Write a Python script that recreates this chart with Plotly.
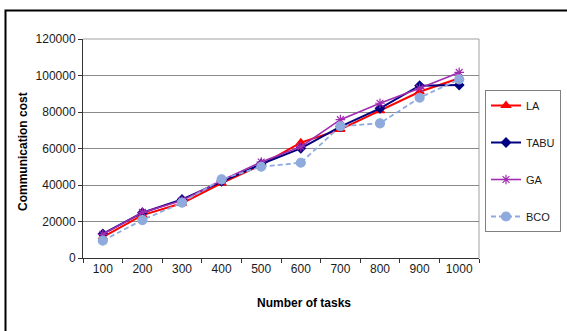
import plotly.graph_objects as go

tasks = ["100", "200", "300", "400", "500", "600", "700", "800", "900", "1000"]
la = [11500, 23500, 30000, 41000, 51000, 63200, 70500, 80700, 91100, 98500]
tabu = [13200, 24800, 32100, 42000, 51500, 60100, 72000, 82000, 94400, 94800]
ga = [13000, 25000, 31500, 42500, 52600, 61000, 75800, 84800, 93000, 101700]
bco = [9500, 20800, 30300, 43100, 50000, 52200, 72200, 73800, 87800, 97900]

FONT = "Liberation Sans, Arial, sans-serif"

series = [
    ("LA", la, "#ff0000", "solid", "triangle-up", 8, 2),
    ("TABU", tabu, "#000080", "solid", "diamond", 7, 2),
    ("GA", ga, "#a02cb0", "solid", "asterisk-open", 8, 1.6),
    ("BCO", bco, "#8faadc", "5px,3px", "circle", 9, 1.8),
]

fig = go.Figure()
for name, vals, color, dash, symbol, size, width in series:
    fig.add_trace(go.Scatter(
        x=tasks, y=vals, name=name, mode="lines+markers",
        legendgroup=name,
        line=dict(color=color, width=width, dash=dash),
        marker=dict(symbol=symbol, size=size, color=color,
                    line=dict(color=color, width=1.2)),
    ))

# plot area occupies x 83..479, y 39..258 in the 567x331 page
L, R, T, B = 83, 479, 39, 258
W, H = R - L, B - T

def px(xp):
    return (xp - L) / W

def py(yp):
    return (B - yp) / H

fig.update_layout(
    width=567, height=331,
    margin=dict(l=L, r=567 - R, t=T, b=331 - B, autoexpand=False),
    paper_bgcolor="white", plot_bgcolor="white",
    font=dict(family=FONT, size=12, color="#1a1a1a"),
    showlegend=True,
    legend=dict(
        x=px(485), y=py(90), xanchor="left", yanchor="top",
        bordercolor="#808080", borderwidth=1, bgcolor="white",
        font=dict(family=FONT, size=11, color="#1a1a1a"),
        tracegroupgap=18, itemwidth=30,
    ),
    xaxis=dict(
        type="category", tickson="boundaries",
        ticks="outside", ticklen=4, tickcolor="#333",
        showline=True, linecolor="#333", linewidth=1,
        showgrid=False, zeroline=False,
        tickfont=dict(family=FONT, size=12, color="#1a1a1a"),
        range=[-0.5, 9.5],
    ),
    yaxis=dict(
        range=[0, 120000], dtick=20000,
        ticks="outside", ticklen=4, tickcolor="#333",
        showline=True, linecolor="#333", linewidth=1,
        showgrid=True, gridcolor="#8a8a8a", gridwidth=1,
        zeroline=False, tickformat="d",
        tickfont=dict(family=FONT, size=12, color="#1a1a1a"),
    ),
    shapes=[
        # plot area frame (top and right edges)
        dict(type="line", xref="paper", yref="paper", x0=0, x1=1, y0=1, y1=1,
             line=dict(color="#a0a0a0", width=1), layer="below"),
        dict(type="line", xref="paper", yref="paper", x0=1, x1=1, y0=0, y1=1,
             line=dict(color="#a0a0a0", width=1), layer="below"),
        # chart area border
        dict(type="rect", xref="paper", yref="paper",
             x0=px(5.5), x1=px(575), y0=py(10.5), y1=py(340),
             line=dict(color="#000000", width=2)),
    ],
    annotations=[
        dict(text="<b>Communication cost</b>", textangle=-90,
             xref="paper", yref="paper", x=px(23), y=py(152),
             xanchor="center", yanchor="middle",
             showarrow=False, font=dict(family=FONT, size=12, color="#000")),
        dict(text="<b>Number of tasks</b>",
             xref="paper", yref="paper", x=px(304), y=py(303),
             xanchor="center", yanchor="middle",
             showarrow=False, font=dict(family=FONT, size=12, color="#000")),
    ],
)

fig.write_html("out.html")
